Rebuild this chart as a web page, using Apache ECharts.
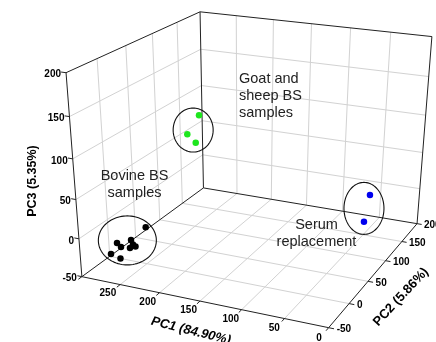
<!DOCTYPE html>
<html><head><meta charset="utf-8">
<script src="https://cdn.jsdelivr.net/npm/echarts@6/dist/echarts.min.js"></script>
<style>html,body{margin:0;padding:0;background:#fff;}#chart{width:436px;height:342px;}</style>
</head><body><div id="chart"></div>
<script>
// ---------------- data ----------------
const pc1Ticks = [0, 50, 100, 150, 200, 250, 300];
const pc1TickLabels = ['0', '50', '100', '150', '200', '250', ''];
const pc2Ticks = [-50, 0, 50, 100, 150, 200];
const pc2TickLabels = ['-50', '0', '50', '100', '150', '200'];
const pc3Ticks = [-50, 0, 50, 100, 150, 200];
const pc3TickLabels = ['-50', '0', '50', '100', '150', '200'];
const axisTitles = ['PC1 (84.90%)', 'PC2 (5.86%)', 'PC3 (5.35%)'];

const bovinePC1 = [245.9, 260.9, 275.2, 272.5, 261.6, 256.9, 261.4, 282.6, 268.8];
const bovinePC2 = [-5, -12, -18, -15, -8, -10, -14, -20, -22];
const bovinePC3 = [2.2, -13.8, -17.4, -23.8, -22.0, -22.7, -23.5, -32.5, -34.7];

const goatSheepPC1 = [181.3, 200.5, 182.8];
const goatSheepPC2 = [5, 12, 0];
const goatSheepPC3 = [147.5, 119.5, 116.7];

const serumPC1 = [41.9, 43.5];
const serumPC2 = [145, 135];
const serumPC3 = [9.5, -22.9];

const groupLabels = [['Bovine BS', 'samples'], ['Goat and', 'sheep BS', 'samples'], ['Serum', 'replacement']];

// ---------------- layout (3D box camera calibration) ----------------
const W = 436, H = 342;
const RANGE = { pc1: [0, 300], pc2: [-50, 200], pc3: [-50, 200] };
const BOX = [
  [1, 0, 0, 82.5, 277], [1, 0, 1, 66, 72], [1, 1, 1, 200, 12], [1, 1, 0, 203, 188],
  [0, 1, 1, 432, 37], [0, 1, 0, 417.5, 223], [0, 0, 0, 328, 328]
];
const S = 400;

function gauss(M) {
  const n = M.length;
  for (let i = 0; i < n; i++) {
    let piv = i;
    for (let r = i + 1; r < n; r++) if (Math.abs(M[r][i]) > Math.abs(M[piv][i])) piv = r;
    const t = M[i]; M[i] = M[piv]; M[piv] = t;
    for (let r = 0; r < n; r++) {
      if (r === i) continue;
      const f = M[r][i] / M[i][i];
      for (let c = i; c <= n; c++) M[r][c] -= f * M[i][c];
    }
  }
  return M.map((row, i) => row[n] / row[i]);
}
function fitCamera(pts) {
  const rows = [], rhs = [];
  pts.forEach(([X, Y, Z, x, y]) => {
    x /= S; y /= S;
    rows.push([X, Y, Z, 1, 0, 0, 0, 0, -x * X, -x * Y, -x * Z]); rhs.push(x);
    rows.push([0, 0, 0, 0, X, Y, Z, 1, -y * X, -y * Y, -y * Z]); rhs.push(y);
  });
  const n = 11, M = [];
  for (let i = 0; i < n; i++) {
    M.push(new Array(n + 1).fill(0));
    for (let r = 0; r < rows.length; r++) {
      for (let j = 0; j < n; j++) M[i][j] += rows[r][i] * rows[r][j];
      M[i][n] += rows[r][i] * rhs[r];
    }
  }
  return gauss(M);
}
const CAM = fitCamera(BOX);
function projN(u, v, w) {
  const p = CAM, d = p[8] * u + p[9] * v + p[10] * w + 1;
  return [S * (p[0] * u + p[1] * v + p[2] * w + p[3]) / d, S * (p[4] * u + p[5] * v + p[6] * w + p[7]) / d];
}
const nrm = (val, r) => (val - r[0]) / (r[1] - r[0]);
function P(a, b, c) { return projN(nrm(a, RANGE.pc1), nrm(b, RANGE.pc2), nrm(c, RANGE.pc3)); }

// ---------------- styles ----------------
const FONT = '"Liberation Sans", Arial, sans-serif';
const GRID_C = '#d2d2d2', FRAME_C = '#222';

function frameRender(params, api) {
  const ch = [];
  const seg = (p1, p2, color, lw) => {
    const a = api.coord(p1), b = api.coord(p2);
    ch.push({ type: 'line', shape: { x1: a[0], y1: a[1], x2: b[0], y2: b[1] }, style: { stroke: color, lineWidth: lw } });
  };
  const [x0, x1] = RANGE.pc1, [y0, y1] = RANGE.pc2, [z0, z1] = RANGE.pc3;
  // grid lines
  pc2Ticks.slice(1, -1).forEach(t => { seg(P(x1, t, z0), P(x1, t, z1), GRID_C, 1); seg(P(0, t, z0), P(x1, t, z0), GRID_C, 1); });
  pc3Ticks.slice(1, -1).forEach(t => { seg(P(x1, y0, t), P(x1, y1, t), GRID_C, 1); seg(P(x0, y1, t), P(x1, y1, t), GRID_C, 1); });
  pc1Ticks.slice(1, -1).forEach(t => { seg(P(t, y1, z0), P(t, y1, z1), GRID_C, 1); seg(P(t, y0, z0), P(t, y1, z0), GRID_C, 1); });
  // frame
  const E = [
    [[x1, y0, z0], [x1, y0, z1]], [[x1, y0, z1], [x1, y1, z1]], [[x1, y1, z0], [x1, y1, z1]], [[x1, y0, z0], [x1, y1, z0]],
    [[x1, y1, z1], [x0, y1, z1]], [[x0, y1, z0], [x0, y1, z1]], [[x1, y1, z0], [x0, y1, z0]],
    [[x0, y0, z0], [x1, y0, z0]], [[x0, y0, z0], [x0, y1, z0]]
  ];
  E.forEach(e => seg(P(...e[0]), P(...e[1]), FRAME_C, 1));
  // ticks + labels
  const txt = (pt, text, align, font, dx, dy, rot) => {
    const c = api.coord(pt);
    ch.push({ type: 'text', x: c[0] + (dx || 0), y: c[1] + (dy || 0), rotation: rot || 0,
      style: { text, fill: '#000', font, textAlign: align, textVerticalAlign: 'middle' } });
  };
  const tickFont = 'bold 10px ' + FONT;
  pc3Ticks.forEach((t, i) => { seg(P(x1, y0, t), P(x1 + 6, y0, t), FRAME_C, 1); txt(P(x1, y0, t), pc3TickLabels[i], 'right', tickFont, -5, 2); });
  pc1Ticks.forEach((t, i) => { seg(P(t, y0, z0), P(t, y0 - 6, z0), FRAME_C, 1); txt(P(t, y0 - 20, z0), pc1TickLabels[i], 'center', tickFont, -1, 0); });
  pc2Ticks.forEach((t, i) => { seg(P(x0, t, z0), P(x0 - 6, t, z0), FRAME_C, 1); txt(P(x0 - 9, t, z0), pc2TickLabels[i], 'left', tickFont, 0, 0); });
  // axis titles
  txt([33, 181], axisTitles[2], 'center', 'bold 12.5px ' + FONT, 0, 0, Math.PI / 2);
  txt([191, 331], axisTitles[0], 'center', 'italic bold 13px ' + FONT, 0, 0, -14 * Math.PI / 180);
  txt([401, 297], axisTitles[1], 'center', 'bold 13px ' + FONT, 0, 0, 47 * Math.PI / 180);
  // group annotations
  const annFont = '14.5px ' + FONT;
  const ann = (lines, x, y, align) => lines.forEach((l, i) => {
    const c = api.coord([x, y + i * 17]);
    ch.push({ type: 'text', x: c[0], y: c[1], style: { text: l, fill: '#222', font: annFont, textAlign: align, textVerticalAlign: 'middle' } });
  });
  ann(groupLabels[0], 134.5, 176, 'center');
  ann(groupLabels[1], 239, 79, 'left');
  ann(groupLabels[2], 316.5, 225, 'center');
  return { type: 'group', children: ch };
}

const groups = [
  { pc1: bovinePC1, pc2: bovinePC2, pc3: bovinePC3, color: '#000000', rx: 29, ry: 24.5, dx: -1, dy: -2.5 },
  { pc1: goatSheepPC1, pc2: goatSheepPC2, pc3: goatSheepPC3, color: '#1ee61e', rx: 20, ry: 22, dx: 0, dy: 1 },
  { pc1: serumPC1, pc2: serumPC2, pc3: serumPC3, color: '#0000ee', rx: 20, ry: 26, dx: -3, dy: 0 }
];
groups.forEach(g => { g.pts = g.pc1.map((v, i) => P(v, g.pc2[i], g.pc3[i])); });

function ellipseRender(params, api) {
  const g = groups[params.dataIndex];
  const xs = g.pts.map(p => api.coord(p)[0]), ys = g.pts.map(p => api.coord(p)[1]);
  const cx = (Math.min(...xs) + Math.max(...xs)) / 2 + g.dx, cy = (Math.min(...ys) + Math.max(...ys)) / 2 + g.dy;
  const pts = [];
  for (let k = 0; k < 96; k++) { const a = k / 96 * Math.PI * 2; pts.push([cx + g.rx * Math.cos(a), cy + g.ry * Math.sin(a)]); }
  return { type: 'polygon', shape: { points: pts }, style: { fill: 'none', stroke: '#111', lineWidth: 1.1 } };
}

const chart = echarts.init(document.getElementById('chart'), null, { renderer: 'canvas' });
chart.setOption({
  animation: false,
  backgroundColor: '#fff',
  grid: { left: 0, right: 0, top: 0, bottom: 0 },
  xAxis: { type: 'value', min: 0, max: W, show: false },
  yAxis: { type: 'value', min: 0, max: H, inverse: true, show: false },
  series: [
    { type: 'custom', clip: false, silent: true, data: [[0, 0]], renderItem: frameRender, z: 1 },
    ...groups.map(g => ({ type: 'scatter', symbol: 'circle', symbolSize: 6.5, data: g.pts, itemStyle: { color: g.color, opacity: 1 }, z: 3 })),
    { type: 'custom', clip: false, silent: true, data: [[0, 0], [0, 0], [0, 0]], renderItem: ellipseRender, z: 4 }
  ]
});
</script></body></html>
